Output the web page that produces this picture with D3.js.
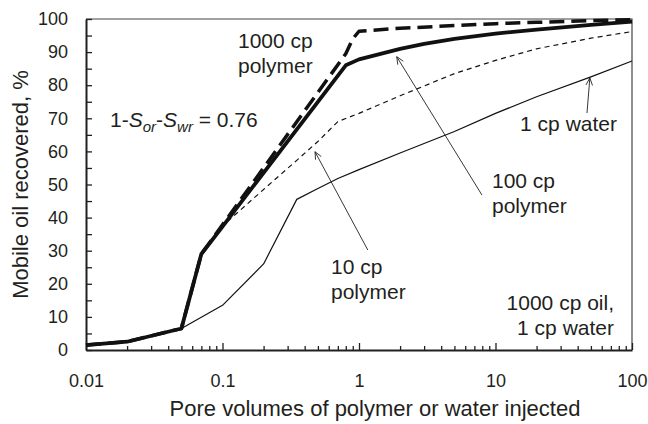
<!DOCTYPE html>
<html>
<head>
<meta charset="utf-8">
<script src="https://cdn.jsdelivr.net/npm/d3@7"></script>
<style>
  body { margin: 0; background: #fff; }
  svg { display: block; font-family: "Liberation Sans", Arial, sans-serif; }
</style>
</head>
<body>
<div id="chart"></div>
<script>
// pore volumes injected (x) and mobile oil recovered, % (y) per run
const water1cpPV = [0.01, 0.02, 0.05, 0.1, 0.2, 0.35, 0.5, 0.7, 1, 2, 5, 10, 20, 50, 100]
const water1cpRec = [1.5, 2.5, 6.5, 13.5, 26, 45.5, 48.8, 51.8, 54.5, 59.5, 66, 71.5, 76.5, 82.5, 87.3]

const polymer10PV = [0.01, 0.02, 0.05, 0.07, 0.1, 0.2, 0.35, 0.5, 0.7, 1, 2, 5, 10, 20, 50, 100]
const polymer10Rec = [1.5, 2.5, 6.5, 29, 37.5, 48.5, 57.3, 63, 69, 71.5, 76.8, 83.5, 87.5, 91, 94.2, 96.2]

const polymer100PV = [0.01, 0.02, 0.05, 0.07, 0.1, 0.8, 1, 2, 3, 5, 10, 20, 50, 100]
const polymer100Rec = [1.5, 2.5, 6.5, 29, 37.3, 86, 87.8, 91, 92.5, 94, 95.6, 96.8, 98.2, 99.2]

const polymer1000PV = [0.01, 0.02, 0.05, 0.07, 0.1, 0.8, 0.9, 1, 2, 5, 10, 20, 50, 100]
const polymer1000Rec = [1.5, 2.5, 6.5, 29, 37.8, 89.5, 94, 96.3, 97.2, 98, 98.6, 99, 99.5, 99.8]

const xMajorTicks = [0.01, 0.1, 1, 10, 100]
const yTicks = d3.range(0, 101, 5)

const width = 648
const height = 424
const margin = { top: 19, right: 16, bottom: 74, left: 86 }
const ink = '#231f20'

const x = d3.scaleLog().domain([0.01, 100]).range([margin.left, width - margin.right])
const y = d3.scaleLinear().domain([0, 100]).range([height - margin.bottom, margin.top])

const svg = d3.select('#chart').append('svg')
  .attr('width', width)
  .attr('height', height)

// minor x ticks 2..9 in every decade
const xMinorTicks = []
for (let d = 0.01; d < 100; d *= 10) {
  for (let k = 2; k <= 9; k++) xMinorTicks.push(+(d * k).toPrecision(3))
}

// frame (top, right)
svg.append('path')
  .attr('d', `M${x(0.01)},${y(100)}H${x(100)}V${y(0)}`)
  .attr('fill', 'none')
  .attr('stroke', '#444')
  .attr('stroke-width', 1.2)

// x axis
const xAxis = svg.append('g')
  .attr('transform', `translate(0,${y(0)})`)
  .call(d3.axisBottom(x).tickValues(xMajorTicks).tickSize(-7).tickSizeOuter(0)
    .tickPadding(24).tickFormat(d3.format('~g')))
xAxis.append('g')
  .call(d3.axisBottom(x).tickValues(xMinorTicks).tickSize(-4).tickSizeOuter(0).tickFormat(''))
  .select('.domain').remove()
xAxis.selectAll('path, line').attr('stroke', ink).attr('stroke-width', 1.3)
xAxis.select('.domain').attr('stroke-width', 2)
xAxis.selectAll('text').attr('fill', ink).style('font-size', '18px')

// y axis
const yAxis = svg.append('g')
  .attr('transform', `translate(${x(0.01)},0)`)
  .call(d3.axisLeft(y).tickValues(yTicks).tickSize(-6).tickSizeOuter(0)
    .tickPadding(18).tickFormat((d) => (d % 10 === 0 ? d : '')))
yAxis.selectAll('path, line').attr('stroke', ink).attr('stroke-width', 1.3)
yAxis.select('.domain').attr('stroke-width', 2)
yAxis.selectAll('text').attr('fill', ink).style('font-size', '18px')

// axis titles
svg.append('text')
  .attr('x', 375)
  .attr('y', 416)
  .attr('text-anchor', 'middle')
  .attr('fill', ink)
  .style('font-size', '22px')
  .text('Pore volumes of polymer or water injected')

svg.append('text')
  .attr('transform', `translate(28,${(y(0) + y(100)) / 2}) rotate(-90)`)
  .attr('text-anchor', 'middle')
  .attr('fill', ink)
  .style('font-size', '22px')
  .text('Mobile oil recovered, %')

// curves
const series = [
  { pv: water1cpPV, rec: water1cpRec, width: 1.2, dash: null },
  { pv: polymer10PV, rec: polymer10Rec, width: 1.2, dash: '5,4' },
  { pv: polymer1000PV, rec: polymer1000Rec, width: 3.5, dash: '15,7' },
  { pv: polymer100PV, rec: polymer100Rec, width: 3.8, dash: null }
]

const line = d3.line()
  .x((d) => x(d[0]))
  .y((d) => y(d[1]))

svg.append('g')
  .selectAll('path')
  .data(series)
  .join('path')
  .attr('d', (s) => line(s.pv.map((v, i) => [v, s.rec[i]])))
  .attr('fill', 'none')
  .attr('stroke', '#111')
  .attr('stroke-width', (s) => s.width)
  .attr('stroke-dasharray', (s) => s.dash)
  .attr('stroke-linejoin', 'round')

// arrows: [from pv, from rec, tip pv, tip rec]
const arrows = [
  [7.96, 46.8, 1.89, 88.6],
  [1.16, 30.2, 0.476, 59.9],
  [46.8, 71.6, 49.1, 82.2]
]

const arrowG = svg.append('g').attr('stroke', ink).attr('stroke-width', 0.9).attr('fill', 'none')
arrows.forEach(([x0, y0, x1, y1]) => {
  const ax = x(x0), ay = y(y0), bx = x(x1), by = y(y1)
  const ang = Math.atan2(by - ay, bx - ax)
  const len = 8
  const spread = 0.42
  arrowG.append('line').attr('x1', ax).attr('y1', ay).attr('x2', bx).attr('y2', by)
  arrowG.append('path')
    .attr('d', `M${bx - len * Math.cos(ang - spread)},${by - len * Math.sin(ang - spread)}` +
      `L${bx},${by}L${bx - len * Math.cos(ang + spread)},${by - len * Math.sin(ang + spread)}`)
})

// text labels
const labels = [
  { lines: ['1000 cp', 'polymer'], x: 238, y: 48, anchor: 'start' },
  { lines: ['100 cp', 'polymer'], x: 492, y: 188, anchor: 'start' },
  { lines: ['10 cp', 'polymer'], x: 331, y: 274, anchor: 'start' },
  { lines: ['1 cp water'], x: 617, y: 131, anchor: 'end' },
  { lines: ['1000 cp oil,', '1 cp water'], x: 614, y: 310, anchor: 'end' }
]

const labelG = svg.append('g').attr('fill', ink).style('font-size', '21px')
labels.forEach((l) => {
  const t = labelG.append('text').attr('x', l.x).attr('y', l.y).attr('text-anchor', l.anchor)
  l.lines.forEach((s, i) => {
    t.append('tspan').attr('x', l.x).attr('dy', i === 0 ? 0 : 24.5).text(s)
  })
})

// 1-Sor-Swr = 0.76
const eq = labelG.append('text').attr('x', 110).attr('y', 127)
eq.append('tspan').text('1-')
eq.append('tspan').style('font-style', 'italic').text('S')
eq.append('tspan').attr('dy', 5).style('font-style', 'italic').style('font-size', '15px').text('or')
eq.append('tspan').attr('dy', -5).text('-')
eq.append('tspan').style('font-style', 'italic').text('S')
eq.append('tspan').attr('dy', 5).style('font-style', 'italic').style('font-size', '15px').text('wr')
eq.append('tspan').attr('dy', -5).text(' = 0.76')
</script>
</body>
</html>
